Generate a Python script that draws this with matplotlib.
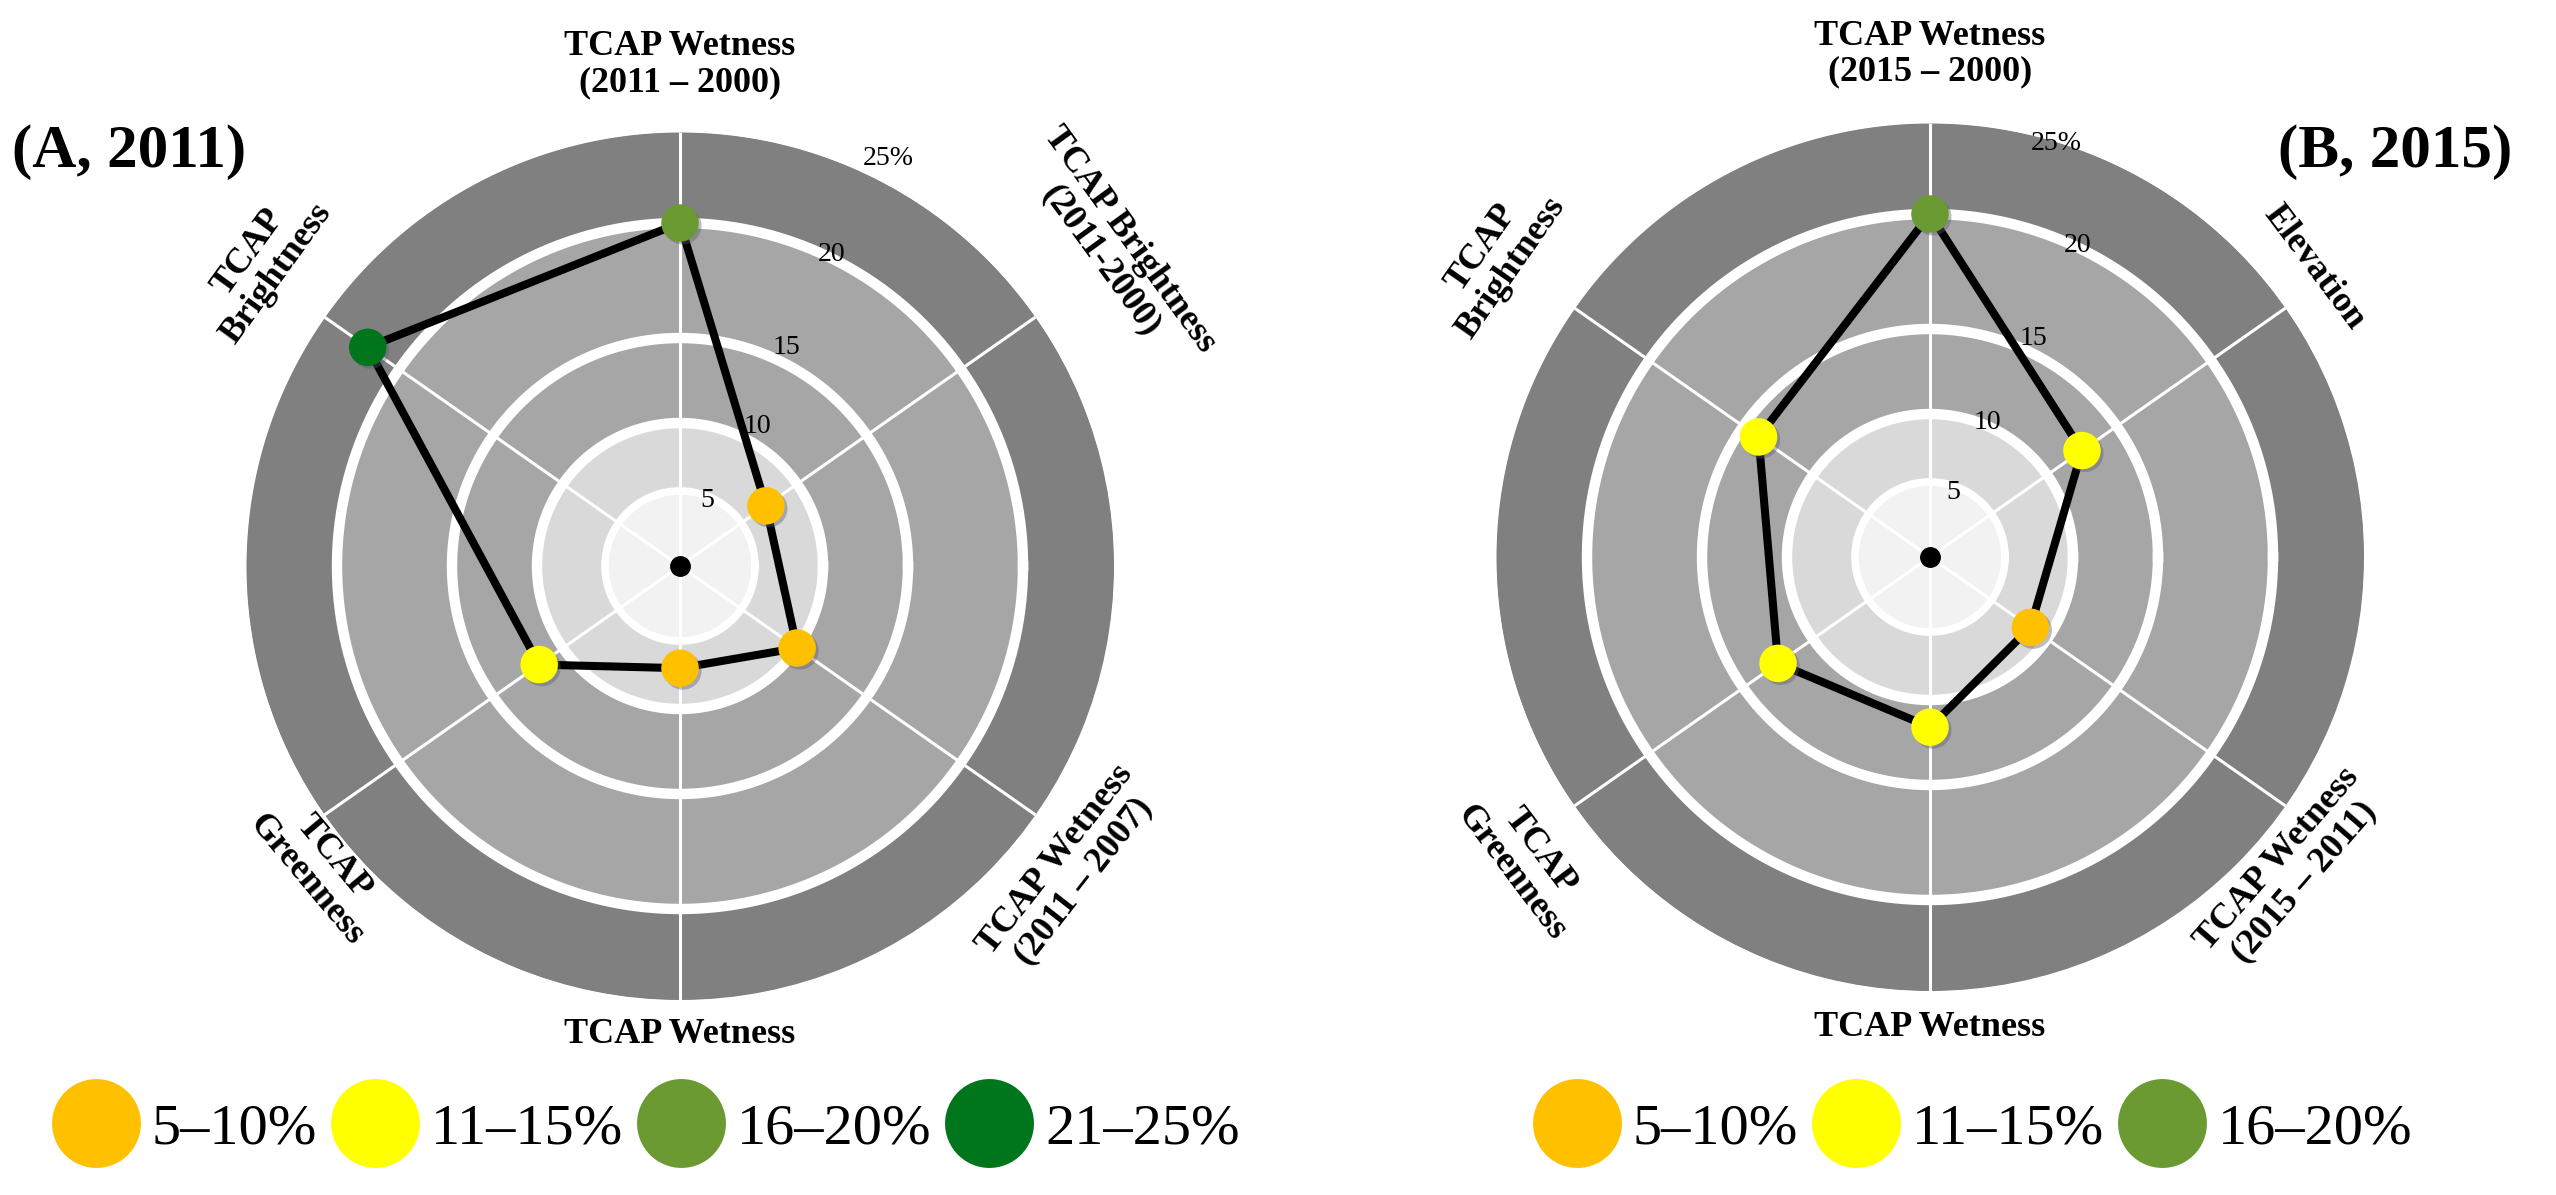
import numpy as np
import matplotlib
matplotlib.use('Agg')
import matplotlib.pyplot as plt
from matplotlib.lines import Line2D
import matplotlib.patheffects as pe

# ---------------- data ----------------
ring_values = [5, 10, 15, 20, 25]
tick_labels = ['5', '10', '15', '20', '25%']

categories_a = ['TCAP Wetness\n(2011 – 2000)', 'TCAP Brightness\n(2011-2000)',
                'TCAP Wetness\n(2011 – 2007)', 'TCAP Wetness',
                'TCAP\nGreenness', 'TCAP\nBrightness']
values_a = [20.0, 7.2, 10.0, 7.0, 11.7, 22.1]

categories_b = ['TCAP Wetness\n(2015 – 2000)', 'Elevation',
                'TCAP Wetness\n(2015 – 2011)', 'TCAP Wetness',
                'TCAP\nGreenness', 'TCAP\nBrightness']
values_b = [20.0, 12.5, 8.5, 11.6, 12.5, 13.9]

class_labels = ['5–10%', '11–15%', '16–20%', '21–25%']
class_upper = [10.5, 15.5, 20.5, 25.5]
class_colors = ['#ffc000', '#ffff00', '#6b9a33', '#00761c']
legend_classes_a = [0, 1, 2, 3]
legend_classes_b = [0, 1, 2]

titles = ['(A, 2011)', '(B, 2015)']

# ---------------- layout / style ----------------
plt.rcParams['font.family'] = ['Liberation Serif', 'DejaVu Serif']

# radial scale of the infographic (value -> relative radius)
scale_vals = np.array([0, 5, 10, 15, 20, 25, 40], dtype=float)
scale_rads = np.array([0, 75, 143, 228, 343, 434, 707], dtype=float) / 434.0


def fwd(v):
    return np.interp(np.asarray(v, dtype=float), scale_vals, scale_rads)


def inv(r):
    return np.interp(np.asarray(r, dtype=float), scale_rads, scale_vals)


spoke_angles = [90, 35, -35, -90, -145, 145]
band_colors = ['#f2f2f2', '#d9d9d9', '#a6a6a6', '#a6a6a6', '#808080']
ring_widths = [5.5, 7.5, 7.5, 7.5]

label_pos_a = [(90, 28.7, 0), (36, 30.7, -54), (-38, 28.3, 52),
               (-90, 26.9, 0), (220, 27.0, -50), (144, 29.5, 54)]
label_pos_b = [(90, 28.8, 0), (37, 27.6, -53), (-41, 27.4, 49),
               (-90, 27.0, 0), (217, 29.0, -53), (145.4, 30.1, 55)]
tick_pos_a = [(67.7, 4.7), (61, 11.0), (64, 15.65), (64, 20.2), (63, 26.3)]
tick_pos_b = [(70, 4.6), (67, 10.2), (64.6, 15.6), (64.6, 20.1), (73, 24.9)]

W, H = 2556, 1195
fig = plt.figure(figsize=(W / 100, H / 100), dpi=100)

R = 434
centers = [(680, 566), (1930, 557)]


def class_color(v):
    for up, c in zip(class_upper, class_colors):
        if v <= up:
            return c
    return class_colors[-1]


def draw_radar(center, cats, vals, label_pos, tick_pos):
    cx, cy = center
    ax = fig.add_axes([(cx - R) / W, (H - cy - R) / H, 2 * R / W, 2 * R / H],
                      projection='polar')
    ax.set_rscale('function', functions=(fwd, inv))
    ax.set_rlim(0, 25)
    ax.set_xticks([])
    ax.set_yticks([])
    ax.grid(False)
    ax.spines['polar'].set_visible(False)
    ax.patch.set_alpha(0)

    th = np.linspace(0, 2 * np.pi, 721)
    # bands (filled discs from the outside in)
    for rv, col in zip(ring_values[::-1], band_colors[::-1]):
        ax.fill_between(th, 0, rv, color=col, lw=0, zorder=1)
    # spokes
    for a in spoke_angles:
        t = np.deg2rad(a)
        ax.plot([t, t], [0, 25], color='white', lw=2.2, zorder=2,
                solid_capstyle='butt')
    # white rings
    for rv, lw in zip(ring_values[:-1], ring_widths):
        ax.plot(th, np.full_like(th, rv), color='white', lw=lw, zorder=3)

    # data polygon
    thetas = np.deg2rad(spoke_angles + spoke_angles[:1])
    rr = list(vals) + [vals[0]]
    ax.plot(thetas, rr, color='black', lw=5.8, zorder=4,
            solid_joinstyle='round')
    shadow = [pe.SimplePatchShadow(offset=(2, -2), shadow_rgbFace=(0.35, 0.35, 0.45),
                                   alpha=0.4), pe.Normal()]
    for a, v in zip(spoke_angles, vals):
        ax.plot([np.deg2rad(a)], [v], 'o', ms=27, mew=0, color=class_color(v),
                zorder=5, path_effects=shadow)
    ax.plot([0], [0], 'o', color='black', ms=14, zorder=6)

    # radial tick labels
    for (a, r), s in zip(tick_pos, tick_labels):
        ax.text(np.deg2rad(a), r, s, fontsize=20, ha='center', va='center',
                zorder=7, clip_on=False)
    # category labels
    for (a, r, rot), s in zip(label_pos, cats):
        ax.text(np.deg2rad(a), r, s, fontsize=26, fontweight='bold',
                ha='center', va='center', rotation=rot, rotation_mode='anchor',
                multialignment='center', linespacing=1.1, clip_on=False,
                zorder=7)
    return ax


draw_radar(centers[0], categories_a, values_a, label_pos_a, tick_pos_a)
draw_radar(centers[1], categories_b, values_b, label_pos_b, tick_pos_b)

fig.text(12 / W, 1 - 152 / H, titles[0], fontsize=44, fontweight='bold',
         ha='left', va='center')
fig.text(2512 / W, 1 - 152 / H, titles[1], fontsize=44, fontweight='bold',
         ha='right', va='center')


def make_legend(classes, xc):
    handles = [Line2D([], [], ls='', marker='o', ms=64, mew=0,
                      color=class_colors[i]) for i in classes]
    labels = [class_labels[i] for i in classes]
    fig.legend(handles, labels, loc='center', bbox_to_anchor=(xc, 1 - 1129 / H),
               ncol=len(classes), frameon=False, fontsize=42,
               handlelength=1.55, handletextpad=0.18, columnspacing=0.22,
               borderpad=0, borderaxespad=0)


make_legend(legend_classes_a, 645 / W)
make_legend(legend_classes_b, 1972 / W)

fig.savefig('out.png', dpi=100)
